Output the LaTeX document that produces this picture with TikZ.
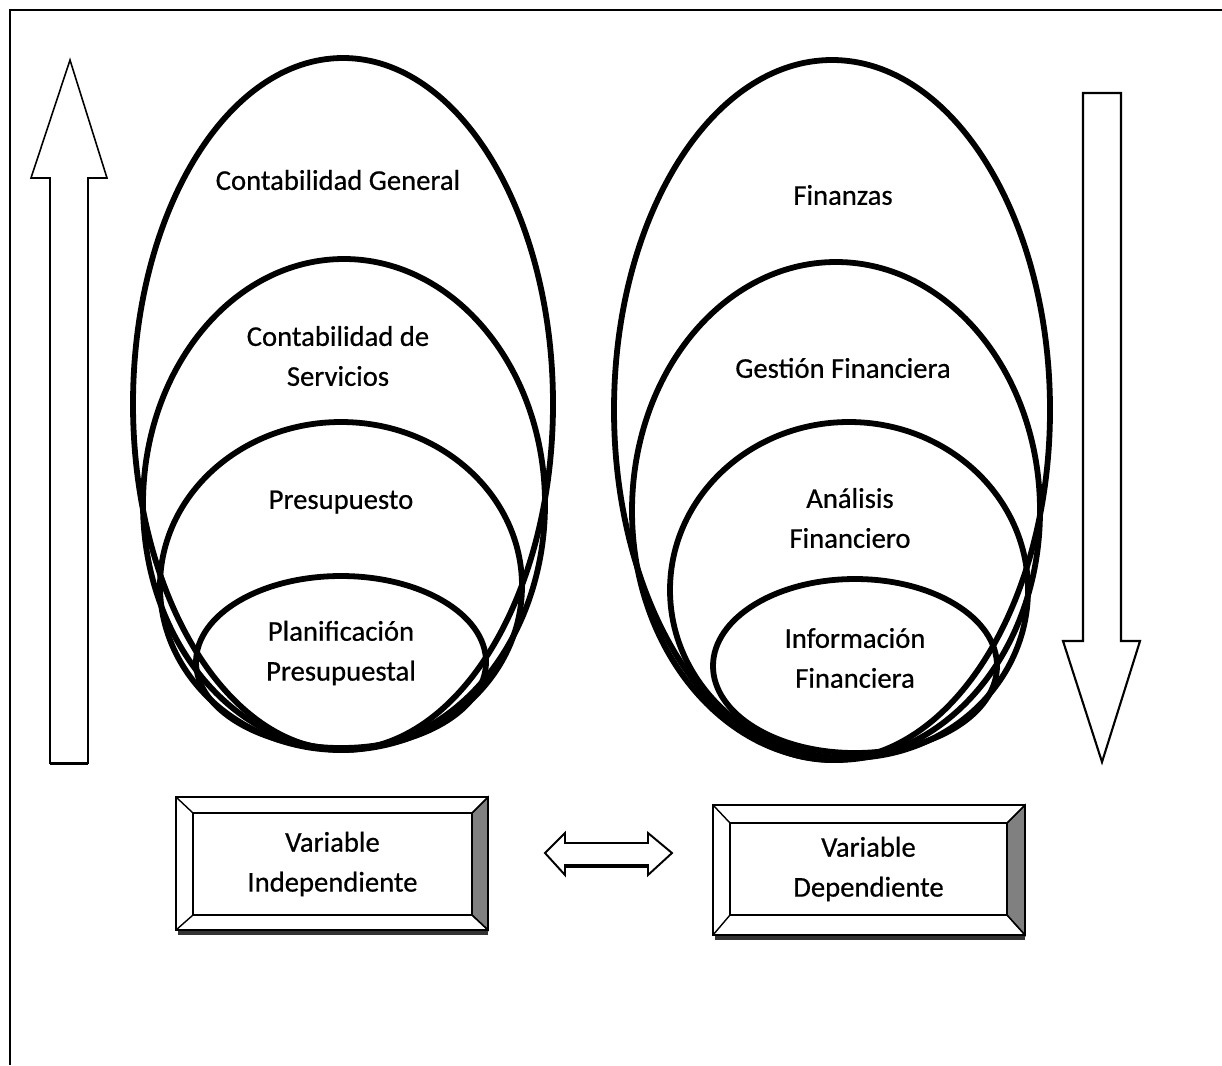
\documentclass[tikz,border=0pt]{standalone}
\usepackage{fontspec}
\setmainfont{Carlito}[FakeBold=0.6]
\usepackage{tikz}
\usetikzlibrary{positioning}

\begin{document}
\begin{tikzpicture}[x=0.02cm, y=-0.02cm,
    ring/.style={line width=3.3pt},
    lbl/.style={align=center, font=\fontsize{16.3}{22.7}\selectfont, inner sep=0pt},
    bigarrow/.style={draw=black, line width=0.9pt, fill=white, line join=miter},
    bevel/.style={draw=black, line width=0.8pt},
    shade/.style={fill=black!50, draw=black, line width=0.8pt}
]
\useasboundingbox (0,0) rectangle (1222,1065);
% frame
\draw[line width=1.1pt] (1222,10) -- (10,10) -- (10,1065);

% left ellipses
\draw[ring] (343,404) ellipse [x radius=210, y radius=346];
\draw[ring] (344,504) ellipse [x radius=201, y radius=245];
\draw[ring] (341,586) ellipse [x radius=181, y radius=164];
\draw[ring] (341,662) ellipse [x radius=145, y radius=86];
\node[lbl] (cg) at (338,180) {Contabilidad General};
\node[lbl] (cs) at (338,356) {Contabilidad de\\Servicios};
\node[lbl] (pr) at (341,502) {Presupuesto};
\node[lbl] (pp) at (341,653) {Planificación\\Presupuestal};

% right ellipses
\draw[ring] (832,410) ellipse [x radius=218, y radius=350];
\draw[ring] (836,511) ellipse [x radius=204, y radius=249];
\draw[ring] (849,590) ellipse [x radius=179, y radius=168];
\draw[ring] (855,666) ellipse [x radius=142, y radius=87];
\node[lbl] (fi) at (843,195) {Finanzas};
\node[lbl] (gf) at (843,368) {Gestión Financiera};
\node[lbl] (af) at (850,518) {Análisis\\Financiero};
\node[lbl] (if) at (855,658) {Información\\Financiera};

% up and down arrows
\draw[bigarrow] (70,60) -- (107,178) -- (88,178) -- (88,763) -- (50,763) -- (50,178) -- (31,178) -- cycle;
\draw[line width=1.6pt] (50,764) -- (88,764);
\draw[bigarrow, line width=1.2pt] (1102,762) -- (1140,641) -- (1121,641) -- (1121,93) -- (1083,93) -- (1083,641) -- (1063,641) -- cycle;

% left box
\fill[shade] (472,813) -- (488,797) -- (488,930) -- (472,915) -- cycle;
\draw[bevel] (176,797) rectangle (488,930);
\draw[bevel] (176,797) -- (193,813) (488,797) -- (472,813) (176,930) -- (193,915) (488,930) -- (472,915);
\draw[line width=2pt, black!80] (178,933) -- (488,933);
\node[lbl, draw=black, line width=0.8pt, minimum width=5.58cm, minimum height=2.04cm] (vi) at (332.5,864) {Variable\\Independiente};

% right box
\fill[shade] (1007,823) -- (1025,805) -- (1025,935) -- (1007,915) -- cycle;
\draw[bevel] (713,805) rectangle (1025,935);
\draw[bevel] (713,805) -- (730,823) (1025,805) -- (1007,823) (713,935) -- (730,915) (1025,935) -- (1007,915);
\draw[line width=2pt, black!80] (715,938) -- (1025,938);
\node[lbl, draw=black, line width=0.8pt, minimum width=5.54cm, minimum height=1.84cm] (vd) at (868.5,869) {Variable\\Dependiente};

% double arrow
\draw[bigarrow, line width=1.1pt] (545,853) -- (565,833) -- (565,843) -- (648,843) -- (648,833) -- (672,853) -- (648,875) -- (648,865) -- (565,865) -- (565,875) -- cycle;
\draw[line width=2pt] (566,866) -- (647,866);
\end{tikzpicture}
\end{document}
